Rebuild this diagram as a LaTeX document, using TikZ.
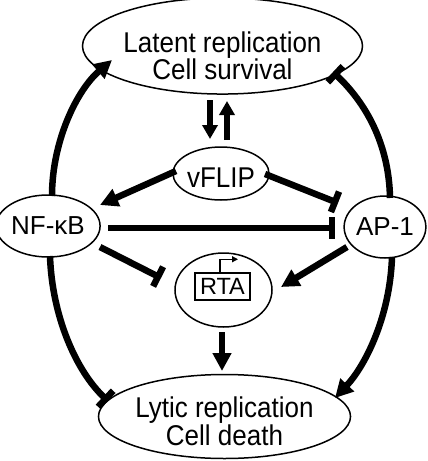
\documentclass[tikz,border=0pt]{standalone}
\usepackage{fontspec}
\usepackage{graphicx}
\setmainfont{Liberation Sans}
\usetikzlibrary{shapes.geometric,arrows.meta,calc}
\newcommand\vtall[1]{\scalebox{1}[1.1]{#1}}
\begin{document}
\begin{tikzpicture}[x=1pt,y=-1pt,
  ell/.style={ellipse,draw,line width=1.5pt,inner sep=0pt,align=center,font=\fontsize{26}{24}\selectfont},
  act/.style={line width=6.5pt,-{Triangle[length=18pt,width=18pt]}},
  actsmall/.style={line width=6pt,-{Triangle[length=14pt,width=15pt]}},
  inh/.style={line width=6.5pt,-{Bar[width=22pt]}},
]
\useasboundingbox (0,0) rectangle (428,461);

% nodes
\node[ell,minimum width=221pt,minimum height=88pt] (top) at (222.5,46)
  {\rule{0pt}{40pt}\vtall{Latent replication}\\\vtall{Cell survival}};
\node[ell,minimum width=78pt,minimum height=53pt] (vflip) at (221,173.5)
  {\rule{0pt}{27pt}\vtall{vFLIP}};
\node[ell,minimum width=93pt,minimum height=62pt] (nfkb) at (48,226) {NF-κB};
\node[ell,minimum width=80pt,minimum height=62pt] (ap1) at (385,227) {AP-1};
\node[ell,minimum width=97pt,minimum height=74pt] (rta) at (223.5,290) {};
\node[draw,line width=1.5pt,minimum width=55pt,minimum height=27pt,inner sep=0pt,
  font=\fontsize{23.5}{24}\selectfont] (rtabox) at (222.5,286.5) {RTA};
\node[ell,minimum width=215pt,minimum height=84pt,font=\fontsize{26}{28}\selectfont] (lytic) at (224.5,416.5)
  {\rule{0pt}{31pt}\vtall{Lytic replication}\\\vtall{Cell death}};

% promoter arrow
\draw[line width=1.2pt,-{Triangle[length=6pt,width=6pt]}]
  ([xshift=-2.5pt]rtabox.north) -- ++(0,-13) -- ++(18,0);

% straight connectors
\draw[actsmall] ([shift={(-12.5,54)}]top.center) -- ([shift={(-11,-34.5)}]vflip.center);
\draw[actsmall] ([shift={(6,-33.5)}]vflip.center) -- ([shift={(4.5,55)}]top.center);
\draw[act] ([shift={(-45,-2.5)}]vflip.center) -- ([shift={(52,-21)}]nfkb.center);
\draw[inh] ([shift={(44,0.5)}]vflip.center) -- ([shift={(-47,-24)}]ap1.center);
\draw[inh] ([shift={(60,2)}]nfkb.center) -- ([shift={(-50,1)}]ap1.center);
\draw[inh] ([shift={(52,21)}]nfkb.center) -- ([shift={(-62.5,-12)}]rta.center);
\draw[act] ([shift={(-38,20)}]ap1.center) -- ([shift={(57.5,-3)}]rta.center);
\draw[act] ([shift={(-1.5,42)}]rta.center) -- ([shift={(-2.5,-45.5)}]lytic.center);

% curved connectors
\draw[act] ([shift={(4,-30)}]nfkb.center) .. controls +(0,-55) and +(-35,30) .. ([shift={(-110.5,14)}]top.center);
\draw[inh] ([shift={(5,-29)}]ap1.center) .. controls +(-1,-55) and +(32,30) .. ([shift={(110.5,26)}]top.center);
\draw[inh] ([shift={(2,30)}]nfkb.center) .. controls +(2,60) and +(-32,-30) .. ([shift={(-116.5,-15.5)}]lytic.center);
\draw[act] ([shift={(7,30)}]ap1.center) .. controls +(-2,60) and +(30,-32) .. ([shift={(110.5,-18.5)}]lytic.center);
\end{tikzpicture}
\end{document}
